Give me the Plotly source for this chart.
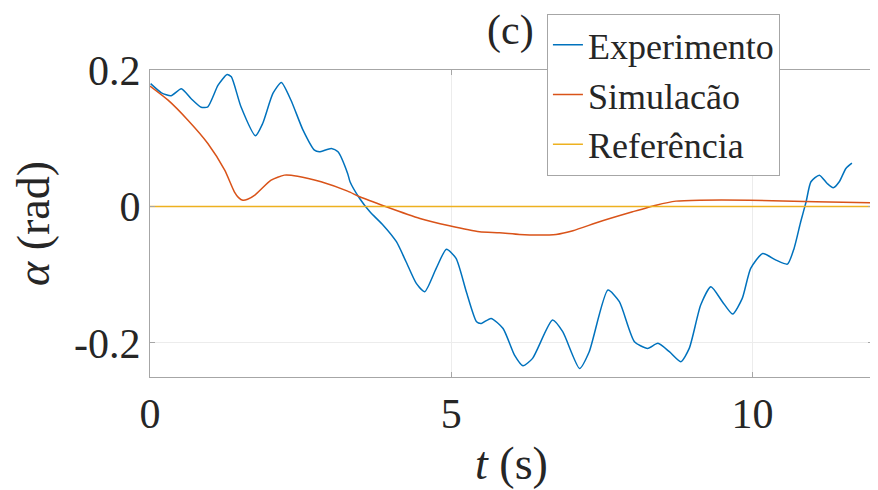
import plotly.graph_objects as go

# ---- data ----
t_exp = [0.01, 0.19, 0.35, 0.52, 0.68, 0.85, 0.96, 1.13, 1.28, 1.35, 1.51, 1.75, 1.87, 2.04, 2.18,
         2.34, 2.54, 2.73, 2.81, 3.01, 3.12, 3.28, 3.32, 3.48, 3.65, 3.87, 4.09, 4.25, 4.42, 4.56,
         4.75, 4.92, 5.08, 5.25, 5.42, 5.50, 5.66, 5.86, 6.05, 6.19, 6.35, 6.68, 6.85, 7.13, 7.29,
         7.60, 7.79, 8.04, 8.26, 8.43, 8.62, 8.81, 8.95, 9.14, 9.31, 9.50, 9.67, 9.83, 9.97, 10.17,
         10.39, 10.58, 10.69, 10.80, 10.89, 10.97, 11.11, 11.24, 11.34, 11.44, 11.55, 11.65]
a_exp = [0.180, 0.1666, 0.1622, 0.1725, 0.1582, 0.1454, 0.1461, 0.1777, 0.1934, 0.190, 0.146,
         0.1036, 0.1216, 0.1656, 0.1817, 0.1557, 0.1118, 0.0825, 0.0801, 0.085, 0.0801, 0.0484,
         0.0362, 0.0117, -0.0078, -0.0274, -0.0517, -0.081, -0.1128, -0.125, -0.0908, -0.0626,
         -0.0762, -0.125, -0.169, -0.1714, -0.1641, -0.1788, -0.2179, -0.2334, -0.2227, -0.1666,
         -0.1836, -0.2374, -0.2129, -0.1226, -0.1396, -0.1982, -0.2081, -0.2007, -0.2129, -0.2275,
         -0.2081, -0.1446, -0.1177, -0.1396, -0.1578, -0.1348, -0.0908, -0.0689, -0.0787, -0.0845,
         -0.0615, -0.0224, 0.0069, 0.0362, 0.0459, 0.0337, 0.0274, 0.0362, 0.0557, 0.0634]

t_sim = [0.0, 0.30, 0.63, 0.96, 1.24, 1.40, 1.47, 1.54, 1.62, 1.74, 2.01, 2.23, 2.45, 2.84, 3.28,
         3.48, 3.92, 4.48, 4.97, 5.47, 5.80, 6.13, 6.46, 6.74, 7.02, 7.46, 8.01, 8.40, 8.73, 9.12,
         9.95, 11.05, 12.0]
a_sim = [0.1765, 0.1558, 0.1264, 0.0923, 0.0532, 0.0215, 0.013, 0.0092, 0.0105, 0.0166, 0.0385,
         0.0459, 0.0444, 0.0362, 0.0224, 0.0142, -0.0004, -0.0176, -0.0283, -0.0371, -0.0385,
         -0.041, -0.042, -0.041, -0.0356, -0.0224, -0.0078, 0.0019, 0.0078, 0.0092, 0.0092,
         0.0069, 0.0054]

t_ref = [0.0, 12.0]
a_ref = [0.0, 0.0]

x_ticks = [0, 5, 10]
x_ticktext = ["0", "5", "10"]
y_ticks = [-0.2, 0, 0.2]
y_ticktext = ["-0.2", "0", "0.2"]

names = ["Experimento", "Simulacão", "Referência"]
colors = ["#0072BD", "#D95319", "#EDB120"]

FONT = "Liberation Serif"
TXT = "#262626"

fig = go.Figure()
fig.add_trace(go.Scatter(x=t_exp, y=a_exp, mode="lines", name=names[0],
                         line=dict(color=colors[0], width=1.5, shape="spline", smoothing=0.6)))
fig.add_trace(go.Scatter(x=t_sim, y=a_sim, mode="lines", name=names[1],
                         line=dict(color=colors[1], width=1.5, shape="spline", smoothing=0.6)))
fig.add_trace(go.Scatter(x=t_ref, y=a_ref, mode="lines", name=names[2],
                         line=dict(color=colors[2], width=1.5)))

axis_common = dict(showline=True, linecolor="#a6a6a6", linewidth=1, mirror="ticks",
                   ticks="inside", ticklen=5, tickcolor="#a6a6a6",
                   showgrid=True, gridcolor="#ececec", gridwidth=1, zeroline=False,
                   tickfont=dict(family=FONT, size=42, color=TXT))

fig.update_xaxes(range=[0, 12], tickvals=x_ticks, ticktext=x_ticktext,
                 title=dict(text="<i>t</i> (s)", font=dict(family=FONT, size=46, color=TXT), standoff=10),
                 **axis_common)
fig.update_yaxes(range=[-0.25, 0.2], tickvals=y_ticks, ticktext=y_ticktext,
                 title=dict(text="<i>α</i> (rad)", font=dict(family=FONT, size=46, color=TXT), standoff=14),
                 **axis_common)

fig.add_annotation(text="(c)", xref="paper", yref="paper", x=0.498, y=1.13,
                   xanchor="center", yanchor="middle", showarrow=False,
                   font=dict(family=FONT, size=42, color=TXT))

# page body has an 8px default margin, so the figure is 8px smaller and margins shifted
fig.update_layout(
    width=870, height=482,
    margin=dict(l=142, r=5, t=62, b=113),
    paper_bgcolor="white", plot_bgcolor="white",
    showlegend=True,
    legend=dict(x=0.549, y=1.183, xanchor="left", yanchor="top",
                bgcolor="white", bordercolor="#a6a6a6", borderwidth=1,
                font=dict(family=FONT, size=36, color=TXT),
                itemwidth=30, tracegroupgap=0),
)

fig.write_html("out.html")
